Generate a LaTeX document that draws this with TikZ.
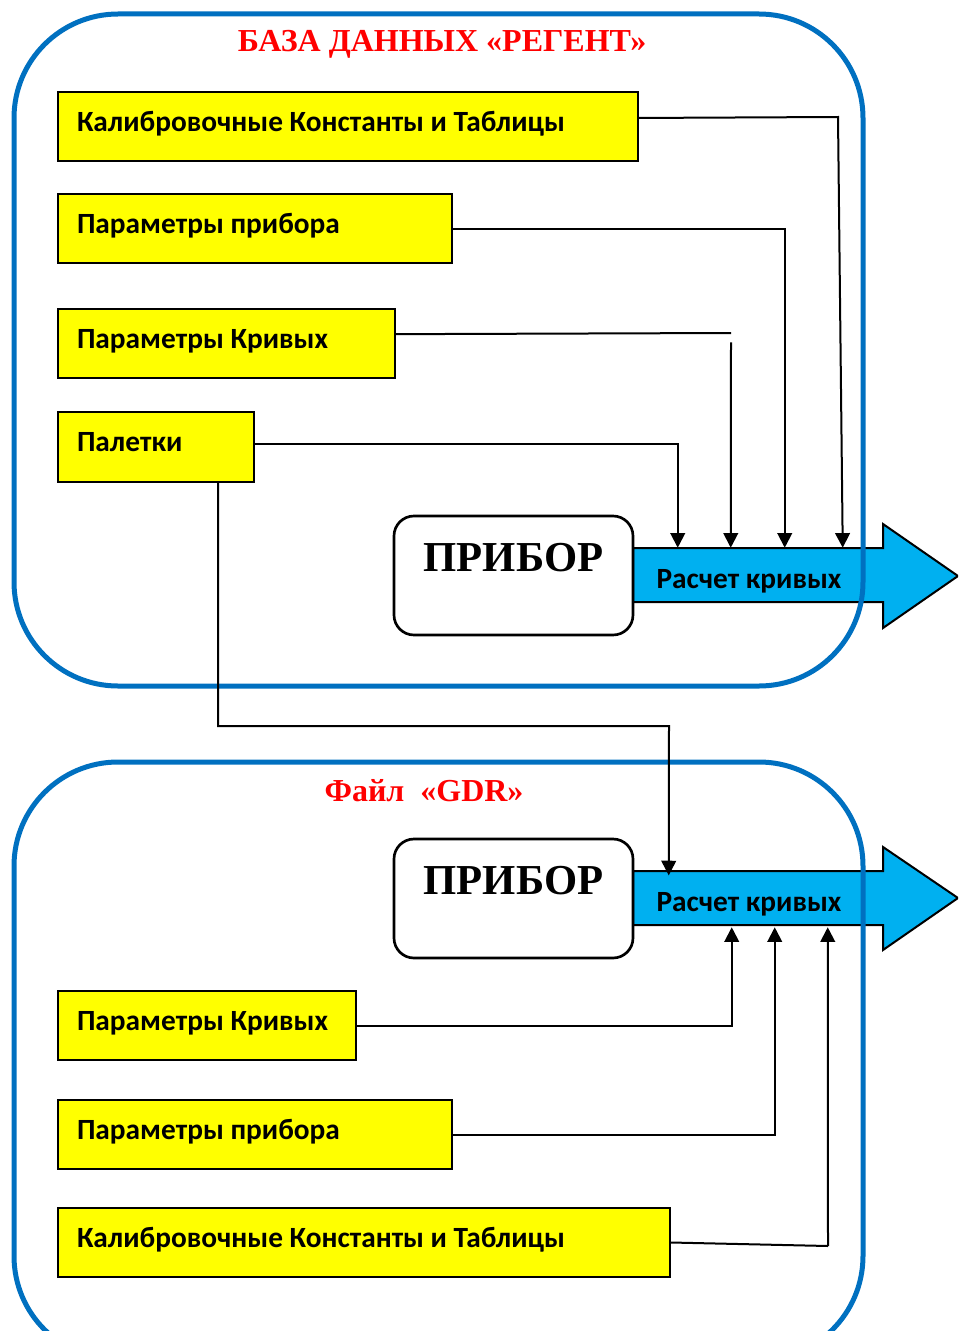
\documentclass[tikz,border=0pt]{standalone}
\usepackage{fontspec}
\setmainfont{Liberation Serif}
\newfontfamily\calfont{Carlito}
\usetikzlibrary{arrows.meta}
\definecolor{cblue}{HTML}{0070C0}
\definecolor{ccyan}{HTML}{00B0F0}
\definecolor{cyell}{HTML}{FFFF00}
\definecolor{cred}{HTML}{FF0000}
\begin{document}
\begin{tikzpicture}[x=0.75pt,y=-0.75pt,
  ybox/.style={draw=black, line width=1.5pt, fill=cyell, anchor=north west,
    minimum height=51.75pt, inner xsep=14.25pt, inner ysep=0pt, align=flush left,
    font=\calfont\bfseries\fontsize{22}{26}\selectfont, text height=14pt, text depth=6.6pt},
  pbox/.style={draw=black, line width=2pt, fill=white, rounded corners=15pt,
    minimum width=179.25pt, minimum height=89.25pt, inner sep=2pt,
    font=\bfseries\fontsize{32}{36}\selectfont, text height=22pt, text depth=28.6pt},
  calc/.style={minimum width=174pt, minimum height=40.5pt, inner sep=0pt,
    text height=22pt, text depth=1.8pt,
    font=\calfont\bfseries\fontsize{22}{26}\selectfont},
  arrowshape/.style={draw=black, line width=1.5pt, fill=ccyan, line join=miter},
  cont/.style={draw=cblue, line width=3.75pt, rounded corners=78pt},
  title/.style={text=cred, font=\bfseries\fontsize{24}{28}\selectfont},
  wire/.style={line width=1.5pt},
  conn/.style={line width=1.5pt, -{Triangle[length=11pt,width=11pt]}}
]
\useasboundingbox (0,0) rectangle (958,1331);
\clip (0,0) rectangle (958,1331);

% big arrows
\draw[arrowshape] (633,548) -- (883,548) -- (883,524) -- (958,576) -- (883,628) -- (883,602) -- (633,602) -- cycle;
\draw[arrowshape] (633,871) -- (883,871) -- (883,847) -- (958,898) -- (883,950) -- (883,925) -- (633,925) -- cycle;

% containers
\draw[cont] (14,14) rectangle (863,686);
\draw[cont] (14,762) rectangle (863,1360);

% titles
\node[title] (t1) at (442,44) {БАЗА ДАННЫХ «РЕГЕНТ»};
\node[title] (t2) at (424,791) {Файл\ \ «GDR»};

% instrument boxes and calc labels
\node[pbox] (pr1) at (513.5,575.5) {ПРИБОР};
\node[pbox] (pr2) at (513.5,898.5) {ПРИБОР};
\node[calc] (calc1) at (749,575) {Расчет кривых};
\node[calc] (calc2) at (749,898) {Расчет кривых};

% top yellow boxes
\node[ybox, text width=406.5pt] (k1) at (57,91) {Калибровочные Константы и Таблицы};
\node[ybox, text width=267pt] (p1) at (57,193) {Параметры прибора};
\node[ybox, text width=224.25pt] (c1) at (57,308) {Параметры Кривых};
\node[ybox, text width=118.5pt, minimum height=52.5pt] (pal) at (57,411) {Палетки};

% bottom yellow boxes
\node[ybox, text width=195pt] (c2) at (57,990) {Параметры Кривых};
\node[ybox, text width=267pt] (p2) at (57,1099) {Параметры прибора};
\node[ybox, text width=430.5pt] (k2) at (57,1207) {Калибровочные Константы и Таблицы};

% helper coordinates
\coordinate (k1c) at (838,117);
\coordinate (c1c) at (731,333);
\coordinate (palk) at (669,726);
\coordinate (k2c) at (828,1246);

% top connectors
\draw[conn] ([yshift=6.4pt]k1.east) -- (k1c) -- ([xshift=157.5pt]calc1.north west);
\draw[conn] (p1.east) -| ([xshift=114pt]calc1.north west);
\draw[wire] ([yshift=7pt]c1.east) -- (c1c);
\draw[conn] ([yshift=-7pt]c1c) -- ([xshift=73.5pt]calc1.north west);
\draw[conn] ([yshift=2.2pt]pal.east) -| ([xshift=33.75pt]calc1.north west);

% palette to lower
\draw[conn] ([xshift=46.5pt]pal.south) |- (palk) -- ([xshift=27pt,yshift=-3.5pt]calc2.north west);

% bottom connectors
\draw[conn] (c2.east) -| ([xshift=74.25pt,yshift=-1.5pt]calc2.south west);
\draw[conn] (p2.east) -| ([xshift=106.5pt,yshift=-1.5pt]calc2.south west);
\draw[wire] (k2.east) -- (k2c);
\draw[conn] (k2c) -- ([xshift=146.25pt,yshift=-1.5pt]calc2.south west);
\end{tikzpicture}
\end{document}
